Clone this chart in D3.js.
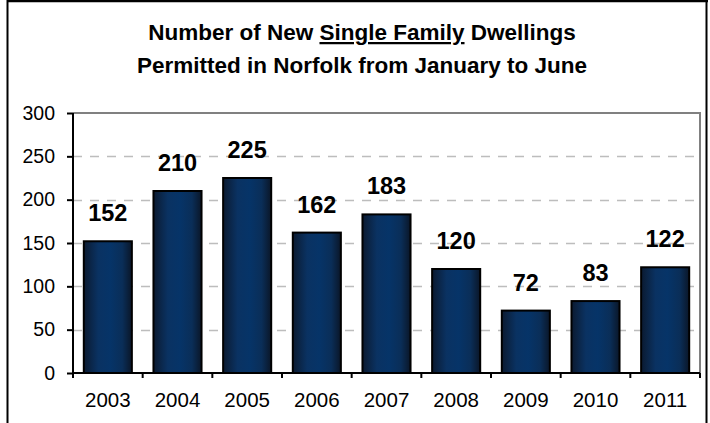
<!DOCTYPE html>
<html><head><meta charset="utf-8">
<script src="https://cdn.jsdelivr.net/npm/d3@7"></script>
<style>body{margin:0;background:#fff}svg{display:block;font-family:"Liberation Sans",Arial,sans-serif}</style>
</head><body>
<svg id="c" width="710" height="423"></svg>
<script>
const years = ["2003","2004","2005","2006","2007","2008","2009","2010","2011"];
const permits = [152,210,225,162,183,120,72,83,122];
const yTicks = [0,50,100,150,200,250,300];
const titleLine1a = "Number of New ";
const titleLine1b = "Single Family";
const titleLine1c = " Dwellings";
const titleLine2 = "Permitted in Norfolk from January to June";

const svg = d3.select("#c");
const m = {left:73, right:700, top:113, bottom:373};
const FF = "Liberation Sans, Arial, sans-serif";

// frame
svg.append("line").attr("x1",7).attr("x2",708).attr("y1",1).attr("y2",1).attr("stroke","#000").attr("stroke-width",2.5);
svg.append("line").attr("x1",7.5).attr("x2",7.5).attr("y1",0).attr("y2",423).attr("stroke","#000").attr("stroke-width",2);
svg.append("line").attr("x1",706.5).attr("x2",706.5).attr("y1",0).attr("y2",423).attr("stroke","#000").attr("stroke-width",2);

const defs = svg.append("defs");
const g = defs.append("linearGradient").attr("id","bg").attr("x1","0").attr("x2","1").attr("y1","0").attr("y2","0");
[[0,"#0b1a30"],[0.3,"#0a3262"],[0.55,"#063468"],[0.8,"#0a2e58"],[1,"#0a1628"]].forEach(([o,c])=>g.append("stop").attr("offset",o).attr("stop-color",c));

const x = d3.scaleBand().domain(years).range([m.left,m.right]).paddingInner(0.31).paddingOuter(0.155);
const y = d3.scaleLinear().domain([0,300]).range([m.bottom,m.top]);

// gridlines
svg.append("g").selectAll("line").data(yTicks.filter(t=>t>0&&t<300)).join("line")
  .attr("x1",m.left).attr("x2",m.right).attr("y1",d=>Math.round(y(d))+0.5).attr("y2",d=>Math.round(y(d))+0.5)
  .attr("stroke","#bdbdbd").attr("stroke-width",1.5).attr("stroke-dasharray","9,8");
// plot border top/right
svg.append("path").attr("d",`M${m.left},${m.top}H${m.right}V${m.bottom}`).attr("fill","none").attr("stroke","#808080").attr("stroke-width",2);

// bars
svg.append("g").selectAll("rect").data(permits).join("rect")
  .attr("x",(d,i)=>x(years[i])).attr("width",x.bandwidth())
  .attr("y",d=>y(d)).attr("height",d=>y(0)-y(d))
  .attr("fill","url(#bg)").attr("stroke","#000").attr("stroke-width",2);

// value labels
svg.append("g").selectAll("text").data(permits).join("text")
  .attr("x",(d,i)=>x(years[i])+x.bandwidth()/2).attr("y",d=>y(d)-20)
  .attr("text-anchor","middle").attr("font-weight","bold").attr("font-size",23.5).attr("fill","#000")
  .attr("font-family",FF).text(d=>d);

// y axis
const ya = d3.axisLeft(y).tickValues(yTicks).tickSize(6).tickPadding(12);
const yg = svg.append("g").attr("transform",`translate(${m.left},0)`).call(ya);
yg.select(".domain").attr("stroke","#000").attr("stroke-width",2).attr("d",`M0,${m.top}V${m.bottom}`);
yg.selectAll(".tick line").attr("stroke","#000").attr("stroke-width",2);
yg.selectAll("text").attr("font-size",19.5).attr("fill","#000").attr("font-family",FF);

// x axis
const xa = d3.axisBottom(x).tickSize(0).tickPadding(19);
const xg = svg.append("g").attr("transform",`translate(0,${m.bottom})`).call(xa);
xg.select(".domain").attr("stroke","#000").attr("stroke-width",2).attr("d",`M${m.left},0H${m.right}`);
xg.selectAll("text").attr("font-size",20.5).attr("fill","#000").attr("font-family",FF);
// category boundary ticks
const bounds = d3.range(years.length+1).map(i=>m.left + i*(m.right-m.left)/years.length);
svg.append("g").selectAll("line").data(bounds).join("line")
  .attr("x1",d=>d).attr("x2",d=>d).attr("y1",m.bottom).attr("y2",m.bottom+5)
  .attr("stroke","#000").attr("stroke-width",2);

// title
const t1 = svg.append("text").attr("x",362).attr("y",40).attr("text-anchor","middle")
  .attr("font-weight","bold").attr("font-size",22.5).attr("fill","#000").attr("font-family",FF);
t1.append("tspan").text(titleLine1a);
t1.append("tspan").attr("text-decoration","underline").text(titleLine1b);
t1.append("tspan").text(titleLine1c);
svg.append("text").attr("x",362).attr("y",73).attr("text-anchor","middle")
  .attr("font-weight","bold").attr("font-size",22.5).attr("fill","#000").attr("font-family",FF).text(titleLine2);
</script>
</body></html>
